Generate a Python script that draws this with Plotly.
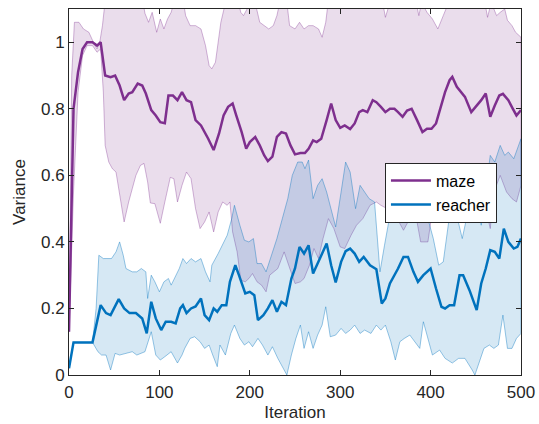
import plotly.graph_objects as go

# ---- data ----
maze_x = [0,5,10,15,20,26,31,35,40,46,51,56,61,66,70,76,81,85,91,96,101,106,110,115,120,125,130,135,140,146,154,160,166,171,176,181,185,191,196,200,206,211,216,220,225,230,235,240,245,250,256,261,265,270,274,279,285,290,295,300,305,311,316,321,325,330,336,340,345,350,355,360,364,369,374,379,385,391,396,401,406,411,416,421,424,429,434,438,445,450,456,461,466,471,476,480,486,491,495,500]
maze_mean = [0.13,0.80,0.91,0.98,1.0,1.0,0.99,1.0,0.90,0.895,0.90,0.87,0.826,0.846,0.85,0.876,0.87,0.846,0.796,0.78,0.76,0.757,0.84,0.84,0.826,0.85,0.826,0.82,0.766,0.75,0.71,0.676,0.726,0.78,0.806,0.816,0.78,0.73,0.68,0.70,0.715,0.69,0.66,0.643,0.656,0.716,0.73,0.726,0.69,0.663,0.667,0.667,0.68,0.705,0.70,0.71,0.766,0.816,0.766,0.743,0.75,0.739,0.756,0.79,0.796,0.79,0.826,0.82,0.806,0.79,0.80,0.80,0.79,0.776,0.795,0.80,0.766,0.73,0.74,0.74,0.756,0.80,0.85,0.886,0.896,0.866,0.85,0.836,0.79,0.806,0.826,0.846,0.776,0.81,0.84,0.845,0.826,0.80,0.78,0.796]

maze_up_x = [0,3,6,11,16,22,27,31,34,37,41,60,80,84,88,92,97,101,105,109,113,117,125,129,134,140,146,151,155,158,162,168,174,185,190,193,197,205,211,216,221,226,230,234,238,241,244,250,255,260,265,270,276,280,284,288,345,350,355,384,387,390,396,402,408,414,420,460,463,467,473,477,482,485,490,494,500]
maze_up = [0.13,0.9,1.06,1.06,1.04,1.03,1.0,0.98,1.0,1.05,1.15,1.2,1.15,1.087,1.06,1.09,1.03,1.07,1.04,1.07,1.09,1.13,1.15,1.08,1.05,1.05,1.04,0.99,0.93,0.92,0.94,1.06,1.13,1.15,1.09,1.08,1.1,1.13,1.06,1.05,1.04,1.05,1.08,1.13,1.11,1.12,1.05,1.04,1.06,1.04,1.05,1.05,1.04,1.015,1.06,1.15,1.15,1.075,1.12,1.12,1.08,1.12,1.09,1.07,1.04,1.08,1.12,1.12,1.075,1.12,1.08,1.09,1.1,1.066,1.05,1.03,1.015]

maze_lo_x = [0,5,10,15,20,26,31,35,38,40,44,48,52,56,61,66,70,74,79,83,87,90,95,101,106,112,116,120,125,130,135,140,145,150,155,160,165,170,175,178,181,186,190,195,199,203,208,213,218,222,227,231,238,243,250,256,260,266,271,276,281,287,293,300,305,312,318,325,333,340,345,352,360,365,370,375,380,385,389,397,405,412,421,430,442,452,460,466,470,477,484,490,495,500]
maze_lo = [0.13,0.55,0.85,0.96,0.99,0.99,0.97,0.98,0.85,0.69,0.64,0.62,0.61,0.55,0.46,0.52,0.56,0.60,0.63,0.636,0.58,0.517,0.515,0.456,0.52,0.594,0.59,0.52,0.57,0.61,0.59,0.50,0.44,0.46,0.49,0.43,0.49,0.52,0.51,0.52,0.43,0.37,0.285,0.28,0.29,0.305,0.28,0.27,0.25,0.30,0.31,0.32,0.37,0.33,0.275,0.28,0.29,0.33,0.38,0.35,0.41,0.47,0.44,0.385,0.38,0.42,0.45,0.47,0.51,0.52,0.51,0.50,0.48,0.46,0.435,0.46,0.47,0.46,0.40,0.40,0.55,0.60,0.61,0.60,0.59,0.565,0.51,0.44,0.55,0.60,0.55,0.53,0.52,0.57]

reacher_x = [0,5,26,35,41,46,55,61,67,74,81,86,91,96,102,107,113,118,123,126,130,135,140,146,150,155,160,164,169,174,178,184,188,195,200,205,209,215,220,225,230,235,240,246,250,255,260,265,270,276,285,290,295,301,306,311,316,321,326,333,340,346,350,355,360,364,370,375,381,386,392,400,406,412,416,421,426,432,436,443,451,456,461,466,471,476,481,486,492,496,500]
reacher_mean = [0.02,0.098,0.098,0.21,0.186,0.18,0.228,0.20,0.186,0.186,0.17,0.125,0.22,0.17,0.135,0.16,0.16,0.155,0.20,0.21,0.186,0.20,0.206,0.23,0.18,0.165,0.20,0.19,0.21,0.21,0.28,0.33,0.30,0.245,0.25,0.24,0.165,0.18,0.20,0.225,0.19,0.22,0.21,0.29,0.32,0.385,0.365,0.39,0.305,0.34,0.395,0.33,0.278,0.34,0.372,0.38,0.365,0.34,0.355,0.33,0.318,0.215,0.23,0.275,0.30,0.32,0.355,0.355,0.31,0.28,0.30,0.32,0.26,0.205,0.20,0.21,0.21,0.30,0.30,0.255,0.195,0.275,0.32,0.375,0.37,0.35,0.44,0.40,0.38,0.385,0.41]

reacher_up_x = [0,5,26,30,33,38,42,47,52,56,60,63,70,75,80,85,87,91,95,100,105,110,113,118,122,126,130,135,140,146,151,156,158,165,170,175,180,183,189,194,199,204,208,213,218,223,230,236,242,247,253,258,261,265,270,275,280,285,290,295,301,306,311,317,322,327,332,338,344,349,356,361,368,373,377,383,388,395,403,409,414,422,428,435,442,451,456,461,466,471,477,482,486,492,500]
reacher_up = [0.02,0.098,0.098,0.2,0.36,0.35,0.35,0.35,0.37,0.40,0.36,0.32,0.31,0.31,0.32,0.31,0.23,0.30,0.28,0.25,0.28,0.29,0.27,0.30,0.32,0.35,0.335,0.35,0.34,0.35,0.31,0.28,0.33,0.365,0.395,0.42,0.47,0.51,0.45,0.405,0.40,0.41,0.335,0.335,0.31,0.35,0.41,0.47,0.53,0.60,0.64,0.64,0.62,0.646,0.53,0.57,0.59,0.55,0.50,0.445,0.55,0.64,0.61,0.50,0.57,0.55,0.53,0.52,0.31,0.39,0.49,0.57,0.55,0.56,0.55,0.53,0.51,0.49,0.41,0.33,0.34,0.50,0.49,0.41,0.50,0.52,0.45,0.55,0.66,0.64,0.69,0.66,0.67,0.65,0.71]

reacher_lo_x = [0,5,26,32,36,41,46,51,56,63,70,75,84,91,96,101,106,113,120,125,128,134,139,145,150,155,159,164,167,173,176,179,183,189,194,199,203,209,214,220,225,231,241,246,251,256,260,265,270,275,280,284,289,295,301,306,311,316,322,327,334,340,345,350,356,361,366,371,377,382,388,392,397,402,410,416,424,431,438,446,449,454,459,465,470,475,480,485,490,495,500]
reacher_lo = [0.02,0.098,0.098,0.07,0.06,0.06,0.015,0.065,0.06,0.065,0.07,0.06,0.07,0.13,0.06,0.045,0.055,0.07,0.036,0.06,0.08,0.11,0.115,0.10,0.08,0.09,0.06,0.025,0.09,0.06,0.09,0.125,0.15,0.11,0.09,0.10,0.085,0.11,0.09,0.06,0.085,0.05,0.0,0.06,0.11,0.15,0.08,0.13,0.08,0.12,0.15,0.205,0.115,0.12,0.14,0.125,0.135,0.15,0.125,0.135,0.125,0.15,0.135,0.15,0.10,0.045,0.10,0.11,0.12,0.10,0.08,0.16,0.11,0.06,0.075,0.05,0.036,0.05,0.05,0.015,0.0,0.04,0.08,0.09,0.08,0.09,0.18,0.08,0.08,0.11,0.125]

series_names = ["maze", "reacher"]
x_ticks = [0, 100, 200, 300, 400, 500]
y_ticks = [0, 0.2, 0.4, 0.6, 0.8, 1]
y_tick_text = ["0", "0.2", "0.4", "0.6", "0.8", "1"]

MAZE = "#7E2F8E"
REACH = "#0072BD"
TXT = "#262626"
FS = 17

fig = go.Figure()

# shaded bands
fig.add_trace(go.Scatter(
    x=maze_up_x + maze_lo_x[::-1], y=maze_up + maze_lo[::-1],
    fill="toself", fillcolor="rgba(126,47,142,0.165)",
    line=dict(color="rgba(126,47,142,0.35)", width=1),
    mode="lines", showlegend=False, hoverinfo="skip"))
fig.add_trace(go.Scatter(
    x=reacher_up_x + reacher_lo_x[::-1], y=reacher_up + reacher_lo[::-1],
    fill="toself", fillcolor="rgba(0,114,189,0.16)",
    line=dict(color="rgba(0,114,189,0.4)", width=1),
    mode="lines", showlegend=False, hoverinfo="skip"))

# mean lines
fig.add_trace(go.Scatter(x=maze_x, y=maze_mean, mode="lines", name=series_names[0],
                         line=dict(color=MAZE, width=2.5)))
fig.add_trace(go.Scatter(x=reacher_x, y=reacher_mean, mode="lines", name=series_names[1],
                         line=dict(color=REACH, width=2.5)))

axis_common = dict(showline=True, linecolor=TXT, linewidth=1, mirror="allticks",
                   ticks="inside", ticklen=5, tickcolor=TXT, showgrid=False,
                   zeroline=False, tickfont=dict(size=FS, color=TXT),
                   automargin=False)

fig.update_xaxes(range=[0, 500], tickvals=x_ticks, ticklabelstandoff=2,
                 title=dict(text="Iteration", font=dict(size=FS, color=TXT), standoff=4),
                 **axis_common)
fig.update_yaxes(range=[0, 1.1], tickvals=y_ticks, ticktext=y_tick_text,
                 title=dict(text="Variance", font=dict(size=FS, color=TXT), standoff=11),
                 **axis_common)

fig.update_layout(
    width=539, height=424,
    margin=dict(l=69, r=18, t=9, b=49),
    paper_bgcolor="white", plot_bgcolor="white",
    font=dict(family="Liberation Sans, Arial, sans-serif", color=TXT),
    legend=dict(x=0.699, y=0.58, xanchor="left", yanchor="top",
                bgcolor="white", bordercolor=TXT, borderwidth=1,
                font=dict(size=16, color="black"), tracegroupgap=0,
                itemwidth=40),
    showlegend=True,
)

fig.write_html("out.html", config={"displayModeBar": False},
               post_script="document.body.style.margin='0';")
